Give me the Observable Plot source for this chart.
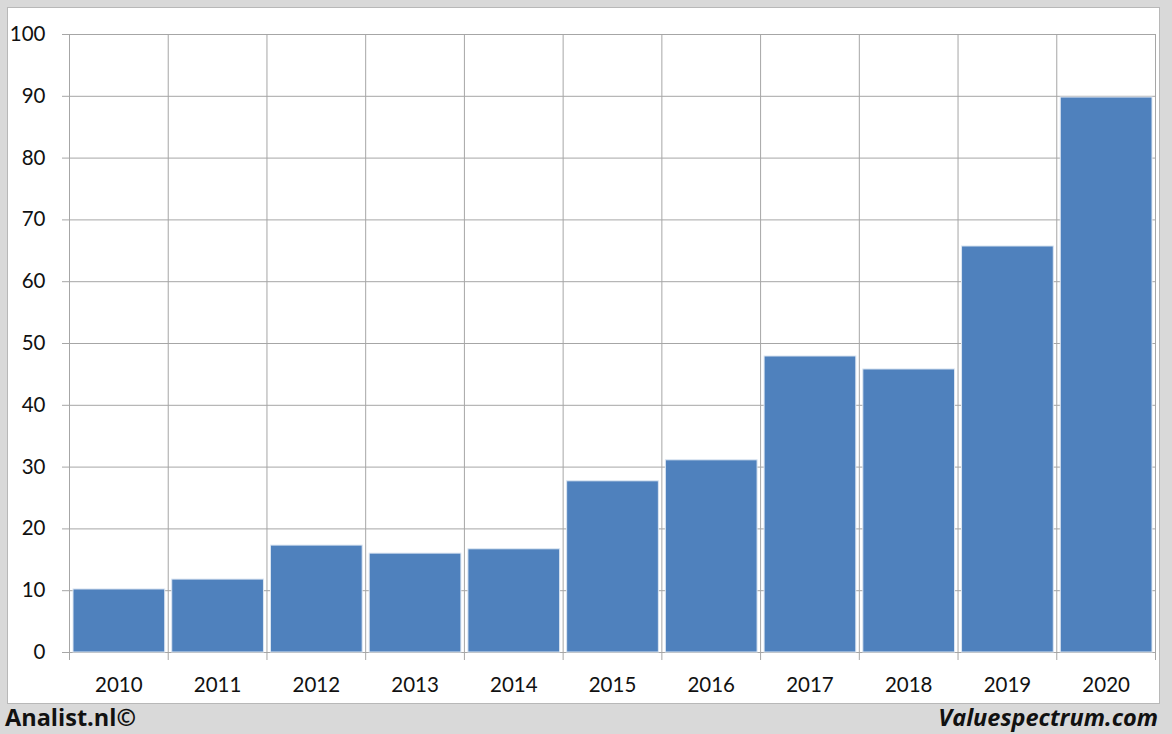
<!DOCTYPE html>
<html>
<head>
<meta charset="utf-8">
<script src="https://cdn.jsdelivr.net/npm/d3@7"></script>
<script src="https://cdn.jsdelivr.net/npm/@observablehq/plot@0.6"></script>
<style>
  html, body { margin: 0; padding: 0; background: #d9d9d9; }
  #wrap { position: relative; width: 1172px; height: 734px; overflow: hidden; }
  #panel { position: absolute; left: 7px; top: 7px; width: 1151px; height: 695px; background: #fff; border: 1px solid #b8b8b8; }
  #chart { position: absolute; left: 0; top: 0; }
  .foot { position: absolute; top: 702px; line-height: 30px; font-family: "Open Sans", sans-serif; font-weight: bold; font-size: 23.5px; color: #111; }
  #left { left: 5px; }
  #right { right: 14px; font-style: italic; }
</style>
</head>
<body>
<div id="wrap">
  <div id="panel"></div>
  <div id="chart"></div>
  <div class="foot" id="left">Analist.nl©</div>
  <div class="foot" id="right">Valuespectrum.com</div>
</div>
<script>
const years = [2010, 2011, 2012, 2013, 2014, 2015, 2016, 2017, 2018, 2019, 2020];
const values = [10.2, 11.8, 17.3, 16.0, 16.7, 27.7, 31.1, 47.9, 45.8, 65.7, 89.8];
const yTicks = [0, 10, 20, 30, 40, 50, 60, 70, 80, 90, 100];

const data = years.map((y, i) => ({year: y, value: values[i]}));
const xMin = years[0] - 0.5;
const xMax = years[years.length - 1] + 0.5;
const bounds = [...years.map(y => y - 0.5), xMax];

const chart = Plot.plot({
  width: 1172,
  height: 703,
  marginLeft: 69,
  marginRight: 17,
  marginTop: 34,
  marginBottom: 51,
  style: {background: "transparent", fontFamily: "Lato, sans-serif", fontSize: "20.5px", color: "#111"},
  x: {type: "linear", domain: [xMin, xMax], axis: null},
  y: {type: "linear", domain: [0, 100], axis: null},
  marks: [
    // horizontal gridlines, extended left as tick marks
    Plot.ruleY(yTicks, {y: d => d, x1: xMin, x2: xMax, stroke: "#a6a6a6", strokeWidth: 1, strokeOpacity: 1, insetLeft: -7}),
    // vertical gridlines at category boundaries, extended below as tick marks
    Plot.ruleX(bounds, {x: d => d, y1: 100, y2: 0, stroke: "#a6a6a6", strokeWidth: 1, strokeOpacity: 1, insetBottom: -8}),
    // bars
    Plot.rectY(data, {x1: d => d.year - 0.5, x2: d => d.year + 0.5, y1: 0, y2: "value", fill: "#4f81bd", stroke: "#dce6f2", strokeWidth: 1, insetLeft: 4, insetRight: 3}),
    // axis labels
    Plot.text(yTicks, {x: xMin, y: d => d, text: d => String(d), textAnchor: "end", dx: -24, fill: "#111"}),
    Plot.text(years, {x: d => d, y: 0, text: d => String(d), dy: 33, fill: "#111"})
  ]
});
document.getElementById("chart").appendChild(chart);
</script>
</body>
</html>
